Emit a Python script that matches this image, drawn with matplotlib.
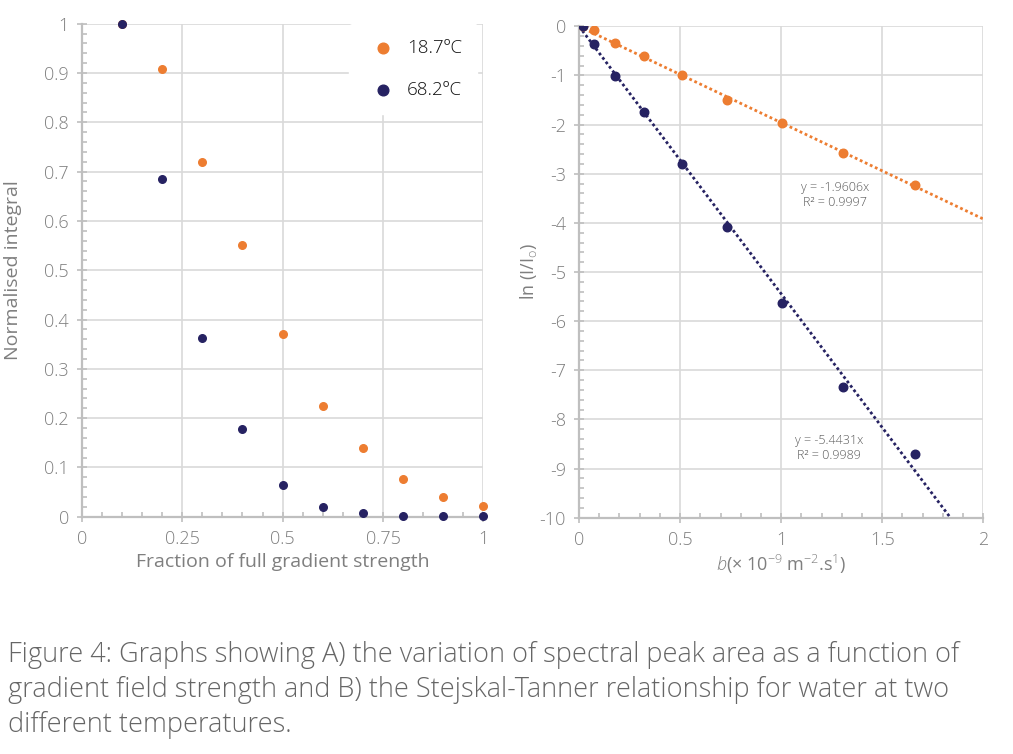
import matplotlib.pyplot as plt
from matplotlib.ticker import MultipleLocator, FuncFormatter
import numpy as np

plt.rcParams['font.family'] = ['Open Sans', 'DejaVu Sans']
plt.rcParams['font.weight'] = 'light'
plt.rcParams['axes.unicode_minus'] = False
plt.rcParams['mathtext.fontset'] = 'custom'
plt.rcParams['mathtext.rm'] = 'Open Sans:light'
plt.rcParams['mathtext.it'] = 'Open Sans:italic'

# Panel A: normalised integral vs fraction of gradient strength
fraction = [0.1, 0.2, 0.3, 0.4, 0.5, 0.6, 0.7, 0.8, 0.9, 1.0]
norm_187 = [1.0, 0.909, 0.719, 0.551, 0.370, 0.224, 0.140, 0.077, 0.041, 0.022]
norm_682 = [1.0, 0.686, 0.362, 0.178, 0.064, 0.020, 0.007, 0.002, 0.002, 0.002]

# Panel B: Stejskal-Tanner plot
b_vals = [0.02, 0.076, 0.178, 0.321, 0.508, 0.734, 1.002, 1.307, 1.662]
ln_187 = [0.0, -0.08, -0.33, -0.60, -1.00, -1.49, -1.97, -2.58, -3.23]
ln_682 = [0.0, -0.37, -1.02, -1.75, -2.80, -4.09, -5.64, -7.35, -8.70]
slope_187 = -1.9606
slope_682 = -5.4431
r2_187 = 0.9997
r2_682 = 0.9989

labels = ["18.7ºC", "68.2ºC"]
orange = "#ed7d31"
navy = "#262262"
grid_c = "#d9d9d9"
axis_c = "#bfbfbf"
text_c = "#7f7f7f"

fig = plt.figure(figsize=(10.13, 7.54), dpi=100)
ax1 = fig.add_axes([0.0809, 0.3147, 0.3962, 0.6538])
ax2 = fig.add_axes([0.5716, 0.3134, 0.3991, 0.6517])


def style_axes(ax):
    for s in ["top", "right"]:
        ax.spines[s].set_visible(False)
    for s in ["left", "bottom"]:
        ax.spines[s].set_color(axis_c)
        ax.spines[s].set_linewidth(1.6)
    ax.grid(True, which="major", color=grid_c, linewidth=1.2)
    ax.set_axisbelow(True)
    ax.tick_params(which="major", direction="inout", length=7, width=1.2,
                   color=axis_c, labelcolor=text_c, labelsize=13, pad=6)
    ax.tick_params(which="minor", direction="in", length=3.5, width=1.2, color=axis_c)


fmt = FuncFormatter(lambda v, p: "%g" % v)

# ---- left panel
ax1.scatter(fraction, norm_187, s=30, color=orange, zorder=3, label=labels[0], clip_on=False)
ax1.scatter(fraction, norm_682, s=30, color=navy, zorder=3, label=labels[1], clip_on=False)
ax1.set_xlim(0, 1)
ax1.set_ylim(0, 1)
ax1.xaxis.set_major_locator(MultipleLocator(0.25))
ax1.xaxis.set_minor_locator(MultipleLocator(0.05))
ax1.yaxis.set_major_locator(MultipleLocator(0.1))
ax1.yaxis.set_minor_locator(MultipleLocator(0.02))
ax1.xaxis.set_major_formatter(fmt)
ax1.yaxis.set_major_formatter(fmt)
style_axes(ax1)
ax1.set_xlabel("Fraction of full gradient strength", color=text_c, fontsize=14, labelpad=4)
ax1.set_ylabel("Normalised integral", color=text_c, fontsize=14, labelpad=16)
leg = ax1.legend(loc="upper right", bbox_to_anchor=(0.985, 1.0), frameon=True,
                 fontsize=13.5, markerscale=1.4, handletextpad=0.3, labelspacing=1.3,
                 borderpad=0.8, borderaxespad=0.0)
leg.get_frame().set_edgecolor("white")
leg.get_frame().set_facecolor("white")
leg.get_frame().set_alpha(1)
for t in leg.get_texts():
    t.set_color("#111111")

# ---- right panel
xfit = np.linspace(0, 2, 200)
ax2.plot(xfit, slope_187 * xfit, color=orange, linestyle=(0, (1, 1)), linewidth=2, zorder=2)
ax2.plot(xfit, slope_682 * xfit, color=navy, linestyle=(0, (1, 1)), linewidth=2, zorder=2)
ax2.scatter(b_vals, ln_187, s=38, color=orange, zorder=3)
ax2.scatter(b_vals, ln_682, s=38, color=navy, zorder=3)
ax2.set_xlim(0, 2)
ax2.set_ylim(-10, 0)
ax2.xaxis.set_major_locator(MultipleLocator(0.5))
ax2.xaxis.set_minor_locator(MultipleLocator(0.1))
ax2.yaxis.set_major_locator(MultipleLocator(1))
ax2.yaxis.set_minor_locator(MultipleLocator(0.2))
ax2.xaxis.set_major_formatter(fmt)
ax2.yaxis.set_major_formatter(fmt)
style_axes(ax2)
ax2.set_xlabel(r"$\mathit{b}$(× 10$^{-9}$ m$^{-2}$.s$^{1}$)", color=text_c, fontsize=13, labelpad=3)
ax2.set_ylabel(r"ln (I/I$_{\mathrm{o}}$)", color=text_c, fontsize=13, labelpad=0)
ax2.text(1.266, -3.43, "y = %.4fx\nR² = %.4f" % (slope_187, r2_187), ha="center", va="center",
         fontsize=9, color="#595959", linespacing=1.2)
ax2.text(1.238, -8.58, "y = %.4fx\nR² = %.4f" % (slope_682, r2_682), ha="center", va="center",
         fontsize=9, color="#595959", linespacing=1.2)

fig.text(0.008, 1 - 641 / 754,
         "Figure 4: Graphs showing A) the variation of spectral peak area as a function of\n"
         "gradient field strength and B) the Stejskal-Tanner relationship for water at two\n"
         "different temperatures.",
         ha="left", va="top", fontsize=19.5, color="#666666", linespacing=1.33)

fig.savefig("out.png", dpi=100)
